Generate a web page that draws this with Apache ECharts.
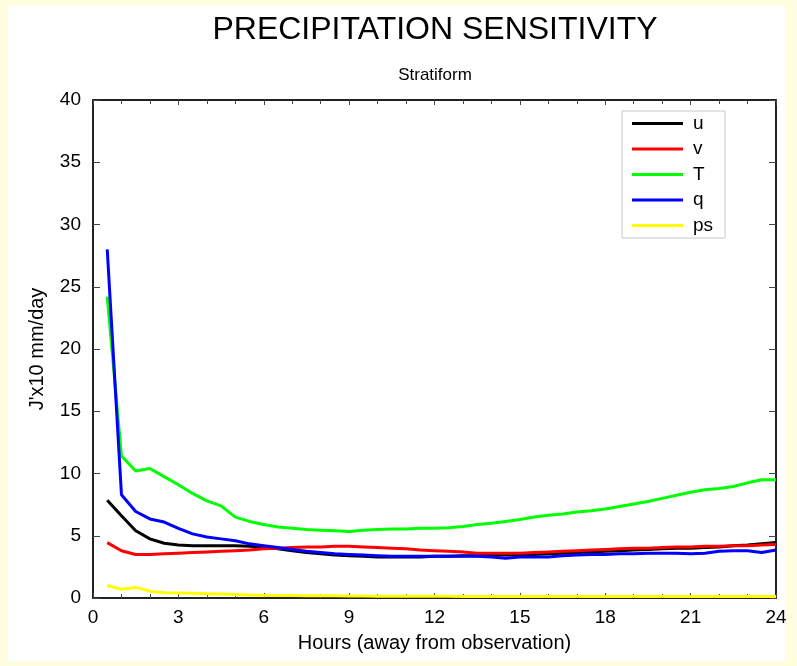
<!DOCTYPE html>
<html>
<head>
<meta charset="utf-8">
<script src="https://cdn.jsdelivr.net/npm/echarts@6/dist/echarts.min.js"></script>
<style>
html,body{margin:0;padding:0;background:#ffffe0;}
#c{width:797px;height:666px;}
</style>
</head>
<body>
<div id="c"></div>
<script>
const hours = [0.5,1,1.5,2,2.5,3,3.5,4,4.5,5,5.5,6,6.5,7,7.5,8,8.5,9,9.5,10,10.5,11,11.5,12,12.5,13,13.5,14,14.5,15,15.5,16,16.5,17,17.5,18,18.5,19,19.5,20,20.5,21,21.5,22,22.5,23,23.5,24];
const seriesNames = ['u','v','T','q','ps'];
const uVals = [7.85,6.6,5.4,4.75,4.4,4.25,4.2,4.2,4.2,4.2,4.15,4.1,3.95,3.8,3.65,3.55,3.45,3.4,3.35,3.3,3.3,3.3,3.3,3.35,3.35,3.4,3.4,3.45,3.45,3.45,3.5,3.55,3.6,3.65,3.7,3.75,3.8,3.85,3.9,3.95,4.0,4.0,4.05,4.1,4.2,4.25,4.35,4.45];
const vVals = [4.45,3.8,3.5,3.5,3.55,3.6,3.65,3.7,3.75,3.8,3.85,3.95,4.0,4.05,4.1,4.1,4.15,4.15,4.1,4.05,4.0,3.95,3.85,3.8,3.75,3.7,3.6,3.6,3.6,3.6,3.65,3.7,3.75,3.8,3.85,3.9,3.95,4.0,4.0,4.05,4.1,4.1,4.15,4.15,4.2,4.2,4.25,4.3];
const TVals = [24.2,11.4,10.2,10.4,9.75,9.1,8.4,7.8,7.4,6.5,6.15,5.9,5.7,5.6,5.5,5.45,5.4,5.35,5.45,5.5,5.55,5.55,5.6,5.6,5.65,5.75,5.9,6.0,6.15,6.3,6.5,6.65,6.75,6.9,7.0,7.15,7.35,7.55,7.75,8.0,8.25,8.5,8.7,8.8,8.95,9.25,9.5,9.5];
const qVals = [28.0,8.3,6.95,6.35,6.1,5.6,5.15,4.9,4.75,4.6,4.35,4.2,4.05,3.9,3.75,3.65,3.55,3.5,3.45,3.4,3.35,3.35,3.35,3.35,3.35,3.35,3.35,3.3,3.2,3.3,3.3,3.3,3.4,3.45,3.5,3.5,3.55,3.55,3.6,3.6,3.6,3.55,3.6,3.75,3.8,3.8,3.65,3.85];
const psVals = [1.0,0.7,0.85,0.55,0.42,0.4,0.38,0.35,0.32,0.28,0.25,0.22,0.2,0.2,0.19,0.18,0.18,0.17,0.16,0.15,0.15,0.15,0.15,0.14,0.14,0.13,0.13,0.13,0.12,0.12,0.12,0.12,0.12,0.12,0.12,0.12,0.12,0.12,0.12,0.12,0.12,0.12,0.12,0.12,0.12,0.12,0.12,0.12];
const seriesColors = ['#000000','#ff0000','#00ff00','#0000ff','#ffff00'];
const xTicks = [0,3,6,9,12,15,18,21,24];
const yTicks = [0,5,10,15,20,25,30,35,40];
const titleText = 'PRECIPITATION SENSITIVITY';
const subText = 'Stratiform';
const xName = 'Hours (away from observation)';
const yName = "J'x10 mm/day";

const allVals = [uVals,vVals,TVals,qVals,psVals];
const FONT = 'Liberation Sans';
const chart = echarts.init(document.getElementById('c'));
const axisLine = {show:true, onZero:false, lineStyle:{color:'#222', width:2}};
const series = seriesNames.map((n,i)=>({
  name:n, type:'line', symbol:'none', showSymbol:false,
  data: hours.map((h,j)=>[h, allVals[i][j]]),
  lineStyle:{color:seriesColors[i], width:3},
  itemStyle:{color:seriesColors[i]},
  z: 2+i
}));
chart.setOption({
  backgroundColor:'#ffffe0',
  animation:false,
  graphic:[
    {type:'rect', left:8, top:6, shape:{width:777, height:655}, style:{fill:'#ffffff'}, z:-10, silent:true},
    {type:'text', x:435, y:30, z:10, style:{text:titleText, font:'32px "Liberation Sans"', fill:'#000', textAlign:'center', textVerticalAlign:'middle'}},
    {type:'text', x:435, y:75, z:10, style:{text:subText, font:'17px "Liberation Sans"', fill:'#000', textAlign:'center', textVerticalAlign:'middle'}}
  ],
  grid:{left:93, right:21, top:100, bottom:68, containLabel:false},
  legend:{
    data:seriesNames, orient:'vertical', left:622, top:111,
    icon:'path://M0,0 M0,14 M0,5.5 L51,5.5 L51,8.5 L0,8.5 Z',
    itemWidth:51, itemHeight:14, itemGap:6.5,
    padding:[3,12,3,10], backgroundColor:'#fff', borderColor:'#c8c8c8', borderWidth:1,
    textStyle:{fontSize:19, fontFamily:FONT, color:'#000', padding:[0,0,0,5]}
  },
  xAxis:[
    {type:'value', min:0, max:24, interval:3, position:'bottom',
     name:xName, nameLocation:'middle', nameGap:35,
     nameTextStyle:{fontSize:20, fontFamily:FONT, color:'#000'},
     axisLine:axisLine,
     axisTick:{show:true, inside:true, length:5, lineStyle:{color:'#444'}},
     minorTick:{show:true, splitNumber:3, length:4, lineStyle:{color:'#444'}},
     splitLine:{show:false},
     axisLabel:{fontSize:19, fontFamily:FONT, color:'#000', margin:10, formatter:v=>xTicks.includes(v)?String(v):''}},
    {type:'value', min:0, max:24, interval:3, position:'top',
     axisLine:axisLine,
     axisTick:{show:true, inside:true, length:5, lineStyle:{color:'#444'}},
     minorTick:{show:true, splitNumber:3, length:4, lineStyle:{color:'#444'}},
     splitLine:{show:false}, axisLabel:{show:false}}
  ],
  yAxis:[
    {type:'value', min:0, max:40, interval:5, position:'left',
     name:yName, nameLocation:'middle', nameGap:46,
     nameTextStyle:{fontSize:20, fontFamily:FONT, color:'#000'},
     axisLine:axisLine,
     axisTick:{show:true, inside:true, length:7, lineStyle:{color:'#444'}},
     splitLine:{show:false},
     axisLabel:{fontSize:19, fontFamily:FONT, color:'#000', margin:12, formatter:v=>yTicks.includes(v)?String(v):''}},
    {type:'value', min:0, max:40, interval:5, position:'right',
     axisLine:axisLine,
     axisTick:{show:true, inside:true, length:7, lineStyle:{color:'#444'}},
     splitLine:{show:false}, axisLabel:{show:false}}
  ],
  series: series
});
</script>
</body>
</html>
